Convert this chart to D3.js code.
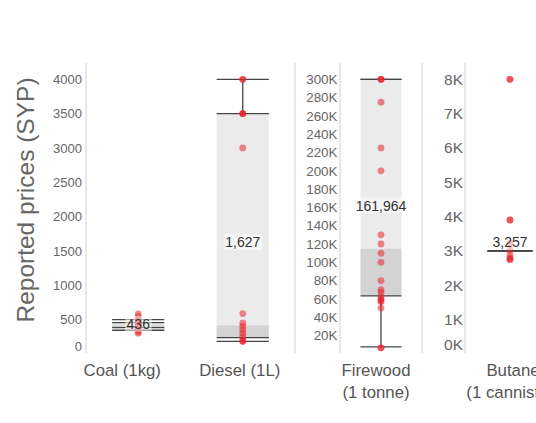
<!DOCTYPE html>
<html>
<head>
<meta charset="utf-8">
<script src="https://cdn.jsdelivr.net/npm/d3@7"></script>
<style>
  html, body { margin: 0; padding: 0; background: #fff; }
  svg { display: block; font-family: "Liberation Sans", Arial, sans-serif; }
</style>
</head>
<body>
<svg id="chart" width="536" height="423"></svg>
<script>
// ---------- DATA ----------
const categories = ["Coal (1kg)", "Diesel (1L)", "Firewood (1 tonne)", "Butane (1 cannister)"];
const categoryLines = [["Coal (1kg)"], ["Diesel (1L)"], ["Firewood", "(1 tonne)"], ["Butane", "(1 cannister)"]];
// box statistics
const whiskerLow  = [343, 182, 7600, 3000];
const q1Values    = [380, 236, 63300, 3000];
const medians     = [420, 416, 114900, 3000];
const q3Values    = [455, 3500, 300000, 3000];
const whiskerHigh = [499, 4000, 300000, 3000];
const means       = [436, 1627, 161964, 3257];
// individual reported prices
const coalPrices     = [580, 540, 500, 470, 450, 430, 420, 400, 380, 350, 320, 300];
const dieselPrices   = [4000, 4000, 3500, 3500, 3500, 3000, 586, 450, 400, 350, 300, 250, 200, 182, 182];
const firewoodPrices = [300000, 300000, 300000, 275000, 225000, 200000, 130000, 120000, 110000, 100000,
                        80000, 70000, 67000, 62000, 60000, 58000, 57000, 50000, 6500, 6500];
const butanePrices   = [8000, 8000, 3900, 3900, 3220, 3020, 2880, 2800, 2750, 2750];
const pricesByCategory = [coalPrices, dieselPrices, firewoodPrices, butanePrices];
// axis ticks per panel
const ticksA = [0, 500, 1000, 1500, 2000, 2500, 3000, 3500, 4000];
const ticksB = [20000, 40000, 60000, 80000, 100000, 120000, 140000, 160000, 180000, 200000,
                220000, 240000, 260000, 280000, 300000];
const ticksC = [0, 1000, 2000, 3000, 4000, 5000, 6000, 7000, 8000];
const axisMax = [4000, 300000, 8000];

// ---------- LAYOUT ----------
const svg = d3.select("#chart");
const yTop = 79.3, yZero = 353.8, plotTop = 63, plotBottom = 353;
const panels = [
  { cats: [0, 1], x0: 86,  x1: 295, ticks: ticksA, max: axisMax[0], fmt: d => String(d),        fs: 13,   tdx: 4 },
  { cats: [2],    x0: 340, x1: 422, ticks: ticksB, max: axisMax[1], fmt: d => (d / 1000) + "K", fs: 13.4, tdx: 2.5 },
  { cats: [3],    x0: 465, x1: 555, ticks: ticksC, max: axisMax[2], fmt: d => (d / 1000) + "K", fs: 15.5, tdx: 2 }
];
const labelNudge = { 0: -16, 1: -3, 2: -5, 3: 3 };

const boxLine = "#454545", lightFill = "#ebebeb", darkFill = "#d3d3d3";
const dotColor = "#e8262c";

// y title
svg.append("text")
  .attr("transform", "translate(34,200) rotate(-90)")
  .attr("text-anchor", "middle")
  .attr("font-size", 24.5)
  .attr("fill", "#666")
  .text("Reported prices (SYP)");

panels.forEach(p => {
  const y = d3.scaleLinear().domain([0, p.max]).range([yZero, yTop]);
  const x = d3.scaleBand().domain(p.cats).range([p.x0, p.x1]).padding(0);
  const g = svg.append("g");

  // frame lines (left axis line and mirrored right line)
  [p.x0, p.x1].forEach(xx => {
    g.append("line").attr("x1", xx).attr("x2", xx).attr("y1", plotTop).attr("y2", plotBottom)
      .attr("stroke", "#e3e3e3").attr("stroke-width", 1.6);
  });

  // y axis via d3
  const ax = d3.axisLeft(y).tickValues(p.ticks).tickFormat(p.fmt).tickSize(0).tickPadding(p.tdx);
  const axg = g.append("g").attr("transform", `translate(${p.x0},0)`).call(ax);
  axg.select(".domain").remove();
  axg.selectAll("text")
    .attr("font-size", p.fs)
    .attr("fill", "#666")
    .attr("font-family", "Liberation Sans, Arial, sans-serif")
    .attr("dy", d => d === 0 ? "-0.25em" : "0.32em");

  const bw = x.bandwidth() * 0.5;
  p.cats.forEach(ci => {
    const cx = x(ci) + x.bandwidth() / 2;
    const left = cx - bw / 2, right = cx + bw / 2;
    // boxes
    g.append("rect").attr("x", left).attr("width", bw)
      .attr("y", y(q3Values[ci])).attr("height", Math.max(0, y(medians[ci]) - y(q3Values[ci])))
      .attr("fill", lightFill);
    g.append("rect").attr("x", left).attr("width", bw)
      .attr("y", y(medians[ci])).attr("height", Math.max(0, y(q1Values[ci]) - y(medians[ci])))
      .attr("fill", darkFill);
    // whiskers
    g.append("line").attr("x1", cx).attr("x2", cx)
      .attr("y1", y(whiskerHigh[ci])).attr("y2", y(q3Values[ci]))
      .attr("stroke", boxLine).attr("stroke-width", 1.3);
    g.append("line").attr("x1", cx).attr("x2", cx)
      .attr("y1", y(q1Values[ci])).attr("y2", y(whiskerLow[ci]))
      .attr("stroke", boxLine).attr("stroke-width", 1.3);
    [whiskerHigh[ci], q3Values[ci], q1Values[ci], whiskerLow[ci]].forEach(v => {
      g.append("line").attr("x1", left).attr("x2", right)
        .attr("y1", y(v)).attr("y2", y(v))
        .attr("stroke", boxLine).attr("stroke-width", 1.3);
    });
    // points
    g.selectAll(null).data(pricesByCategory[ci]).enter().append("circle")
      .attr("cx", cx).attr("cy", d => y(d)).attr("r", 3.4)
      .attr("fill", dotColor).attr("fill-opacity", 0.55);
    // mean label
    const lab = g.append("g").attr("transform", `translate(${cx},${y(means[ci])})`);
    const t = lab.append("text").attr("text-anchor", "middle").attr("dy", "0.35em")
      .attr("font-size", 14).attr("fill", "#333")
      .text(d3.format(",")(means[ci]));
    const bb = t.node().getBBox();
    lab.insert("rect", "text").attr("x", bb.x - 1.5).attr("y", bb.y).attr("width", bb.width + 3).attr("height", bb.height)
      .attr("fill", "#fff").attr("fill-opacity", 0.5);
    // category label
    const tl = svg.append("text").attr("text-anchor", "middle")
      .attr("x", cx + labelNudge[ci]).attr("y", 376)
      .attr("font-size", 16.8).attr("fill", "#555");
    categoryLines[ci].forEach((s, i) => {
      tl.append("tspan").attr("x", cx + labelNudge[ci]).attr("dy", i === 0 ? 0 : 22).text(s);
    });
  });
});
</script>
</body>
</html>
